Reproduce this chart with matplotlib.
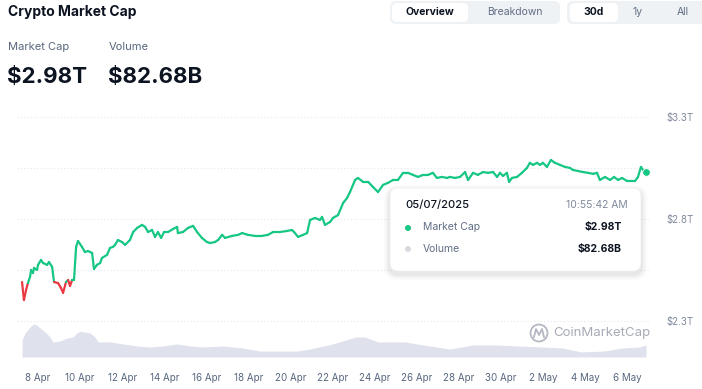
import matplotlib.pyplot as plt
import numpy as np
from matplotlib.collections import LineCollection
from matplotlib.patches import FancyBboxPatch, Circle

plt.rcParams['font.family'] = ['Inter', 'DejaVu Sans']

# time axis: day number counted from 1 Apr (May days continue as 31, 32, ...)
mcap_day = [7.24, 7.33, 7.43, 7.52, 7.62, 7.67, 7.76, 7.81, 7.95, 8.00, 8.14, 8.24, 8.43, 8.52,
            8.67, 8.76, 8.95, 9.09, 9.19, 9.33, 9.43, 9.52, 9.62, 9.71, 9.81, 9.90, 10.09, 10.23,
            10.38, 10.57, 10.66, 10.80, 10.95, 11.04, 11.28, 11.42, 11.56, 11.66, 11.80, 11.99, 12.14,
            12.37, 12.52, 12.71, 12.94, 13.09, 13.23, 13.42, 13.56, 13.70, 13.85, 13.99, 14.18, 14.42,
            14.61, 14.65, 14.89, 15.13, 15.37, 15.56, 15.79, 16.03, 16.18, 16.41, 16.56, 16.75, 16.89,
            17.22, 17.51, 17.70, 17.98, 18.31, 18.65, 18.93, 19.17, 19.50, 19.83, 20.07, 20.17, 20.36,
            20.60, 20.79, 20.93, 21.17, 21.40, 21.50, 21.64, 21.88, 22.02, 22.26, 22.50, 22.69, 22.83,
            23.07, 23.21, 23.45, 23.69, 23.92, 24.16, 24.40, 24.64, 24.87, 25.11, 25.35, 25.59, 25.82,
            26.06, 26.30, 26.54, 26.77, 26.96, 27.20, 27.44, 27.58, 27.82, 28.06, 28.30, 28.44, 28.68,
            28.91, 29.15, 29.39, 29.63, 29.82, 29.96, 30.10, 30.29, 30.39, 30.53, 30.77, 31.00, 31.24,
            31.38, 31.53, 31.72, 31.86, 32.00, 32.19, 32.38, 32.57, 32.81, 33.05, 33.29, 33.43, 33.67,
            33.90, 34.14, 34.38, 34.57, 34.71, 34.95, 35.19, 35.38, 35.57, 35.76, 36.00, 36.38, 36.52,
            36.66, 36.76, 36.90]
# market cap, trillions USD
mcap_val = [2.491, 2.403, 2.452, 2.486, 2.516, 2.550, 2.535, 2.560, 2.550, 2.575, 2.599, 2.584, 2.575, 2.589,
            2.565, 2.491, 2.486, 2.462, 2.438, 2.491, 2.501, 2.472, 2.501, 2.501, 2.663, 2.692, 2.663, 2.638,
            2.643, 2.633, 2.555, 2.575, 2.584, 2.609, 2.624, 2.658, 2.663, 2.673, 2.697, 2.687, 2.673,
            2.697, 2.736, 2.756, 2.771, 2.761, 2.736, 2.746, 2.712, 2.736, 2.707, 2.736, 2.736, 2.751,
            2.761, 2.731, 2.736, 2.756, 2.766, 2.736, 2.707, 2.687, 2.682, 2.687, 2.697, 2.722, 2.707,
            2.717, 2.722, 2.731, 2.722, 2.717, 2.717, 2.722, 2.736, 2.736, 2.741, 2.746, 2.736, 2.712,
            2.722, 2.731, 2.795, 2.805, 2.795, 2.810, 2.771, 2.785, 2.805, 2.819, 2.878, 2.903, 2.932,
            2.991, 3.001, 2.982, 2.982, 2.957, 2.932, 2.967, 2.977, 2.991, 2.991, 3.026, 3.026, 3.016,
            3.006, 3.016, 3.016, 3.026, 3.001, 3.006, 3.001, 3.006, 3.001, 3.006, 3.030, 2.991, 3.026,
            3.016, 3.030, 3.026, 3.030, 3.006, 3.026, 3.011, 3.026, 2.982, 3.001, 3.006, 3.026, 3.050,
            3.075, 3.065, 3.075, 3.065, 3.075, 3.055, 3.089, 3.075, 3.065, 3.055, 3.050, 3.040, 3.035,
            3.030, 3.026, 3.021, 3.026, 2.991, 3.006, 2.991, 3.006, 2.991, 3.001, 2.986, 2.986, 3.006,
            3.055, 3.040, 3.030]

vol_day = [7.24, 7.38, 7.71, 7.86, 8.10, 8.33, 8.57, 8.71, 9.05, 9.38, 9.66, 9.85, 10.00, 10.14,
           10.47, 10.71, 10.85, 11.42, 12.04, 12.71, 13.32, 13.94, 14.61, 15.22, 15.84, 16.79, 17.74,
           18.55, 19.36, 20.31, 20.93, 21.55, 21.83, 23.11, 23.54, 24.16, 25.44, 26.30, 27.58, 28.68,
           29.72, 30.81, 31.91, 32.95, 33.81, 34.90, 35.76, 36.61, 36.90]
# volume, billions USD
vol_val = [117, 166, 221, 228, 200, 173, 138, 104, 110, 131, 138, 166, 179, 173,
           166, 138, 104, 104, 90, 76, 69, 76, 90, 76, 69, 76, 62,
           41, 41, 41, 55, 76, 83, 138, 138, 104, 104, 83, 55, 83,
           83, 76, 69, 62, 35, 41, 62, 69, 83]

tick_days = [8, 10, 12, 14, 16, 18, 20, 22, 24, 26, 28, 30, 32, 34, 36]
tick_labels = ['8 Apr', '10 Apr', '12 Apr', '14 Apr', '16 Apr', '18 Apr', '20 Apr', '22 Apr',
               '24 Apr', '26 Apr', '28 Apr', '30 Apr', '2 May', '4 May', '6 May']
y_label_levels = [3.3, 2.8, 2.3]
y_labels = ['$3.3T', '$2.8T', '$2.3T']
grid_levels = [3.3, 3.05, 2.8, 2.55, 2.3]

GREEN = '#16c784'
RED = '#ea3943'
W, H = 702, 389

fig = plt.figure(figsize=(7.02, 3.89), dpi=100)


def box(x0, y0, x1, y1):
    return [x0 / W, 1 - y1 / H, (x1 - x0) / W, (y1 - y0) / H]


# volume area behind
axv = fig.add_axes(box(17, 110, 650, 357))
axv.fill_between(vol_day, vol_val, 0, color='#dfe2ec', lw=0)
axv.set_xlim(7.0, 37.09)
axv.set_ylim(0, 1704)
axv.axis('off')

# market cap line
ax = fig.add_axes(box(17, 110, 650, 357))
ax.patch.set_alpha(0)
ax.set_xlim(7.0, 37.09)
ax.set_ylim(2.1235, 3.334)
for g in grid_levels:
    ax.axhline(g, color='#e6e8ec', lw=0.8, ls=(0, (1, 2)), zorder=0)

d = np.array(mcap_day)
v = np.array(mcap_val)
pts = np.column_stack([d, v]).reshape(-1, 1, 2)
segs = np.concatenate([pts[:-1], pts[1:]], axis=1)
cols = [RED if (a + b) / 2 < v[0] else GREEN for a, b in zip(v[:-1], v[1:])]
lc = LineCollection(segs, colors=cols, linewidths=1.6, capstyle='round', joinstyle='round')
ax.add_collection(lc)
ax.plot(d[-1], v[-1], 'o', color=GREEN, ms=5.5, mec='white', mew=0.6, zorder=5)

ax.set_xticks(tick_days, tick_labels)
ax.set_yticks(y_label_levels, y_labels)
ax.yaxis.tick_right()
ax.tick_params(axis='x', length=0, pad=11.5, labelsize=7, labelcolor='#58667e')
ax.tick_params(axis='y', length=0, pad=12, labelsize=7, labelcolor='#808a9d')
for s in ax.spines.values():
    s.set_visible(False)

# overlay in pixel coordinates for header, tooltip and watermark
ov = fig.add_axes([0, 0, 1, 1])
ov.set_xlim(0, W)
ov.set_ylim(H, 0)
ov.axis('off')
ov.patch.set_alpha(0)

ov.text(8, 12, 'Crypto Market Cap', fontsize=10, fontweight='bold', color='#0d1421', va='center')
ov.text(8, 47, 'Market Cap', fontsize=8, color='#58667e', va='center')
ov.text(109, 47, 'Volume', fontsize=8, color='#58667e', va='center')
ov.text(7, 77, '$2.98T', fontsize=16, fontweight='bold', color='#0d1421', va='center')
ov.text(108, 77, '$82.68B', fontsize=16, fontweight='bold', color='#0d1421', va='center')

# segmented buttons
ov.add_patch(FancyBboxPatch((390, 1), 170, 23, boxstyle='round,pad=0,rounding_size=6',
                            fc='#eff2f5', ec='none'))
ov.add_patch(FancyBboxPatch((392, 3), 76, 19, boxstyle='round,pad=0,rounding_size=5',
                            fc='white', ec='none'))
ov.text(430, 12, 'Overview', fontsize=7.5, fontweight='bold', color='#0d1421', ha='center', va='center')
ov.text(515, 12, 'Breakdown', fontsize=7.5, color='#616e85', ha='center', va='center')
ov.add_patch(FancyBboxPatch((567, 1), 140, 23, boxstyle='round,pad=0,rounding_size=6',
                            fc='#eff2f5', ec='none'))
ov.add_patch(FancyBboxPatch((570, 3), 48, 19, boxstyle='round,pad=0,rounding_size=5',
                            fc='white', ec='none'))
ov.text(594, 12, '30d', fontsize=7.5, fontweight='bold', color='#0d1421', ha='center', va='center')
ov.text(638, 12, '1y', fontsize=7.5, color='#616e85', ha='center', va='center')
ov.text(683, 12, 'All', fontsize=7.5, color='#616e85', ha='center', va='center')

# watermark
ov.add_patch(Circle((539, 333), 8.5, fill=False, ec='#b4b8c2', lw=1.3))
ov.plot([534, 536, 539, 542, 544], [337, 329, 335, 329, 337], color='#b4b8c2', lw=1.3,
        solid_joinstyle='round')
ov.text(553, 333, 'CoinMarketCap', fontsize=9.5, color='#a7abb5', va='center')

# tooltip
for k, a in [(6, 0.02), (4, 0.03), (2, 0.04)]:
    ov.add_patch(FancyBboxPatch((390 - k, 188 - k + 3), 251 + 2 * k, 83 + 2 * k,
                                boxstyle='round,pad=0,rounding_size=%d' % (8 + k),
                                fc='black', ec='none', alpha=a))
ov.add_patch(FancyBboxPatch((390, 188), 251, 83, boxstyle='round,pad=0,rounding_size=8',
                            fc='white', ec='#eef0f3', lw=0.6))
ov.text(405, 205, '05/07/2025', fontsize=8, fontweight='medium', color='#0d1421', va='center')
ov.text(628, 205, '10:55:42 AM', fontsize=7.5, color='#808a9d', va='center', ha='right')
ov.add_patch(Circle((408, 228), 3, fc=GREEN, ec='none'))
ov.text(423, 227, 'Market Cap', fontsize=7.5, color='#616e85', va='center')
ov.text(622, 227, '$2.98T', fontsize=7.5, fontweight='bold', color='#0d1421', va='center', ha='right')
ov.add_patch(Circle((408, 249), 3, fc='#d7d9df', ec='none'))
ov.text(423, 249, 'Volume', fontsize=7.5, color='#616e85', va='center')
ov.text(622, 249, '$82.68B', fontsize=7.5, fontweight='bold', color='#0d1421', va='center', ha='right')

fig.savefig('out.png', dpi=100, facecolor='white')
